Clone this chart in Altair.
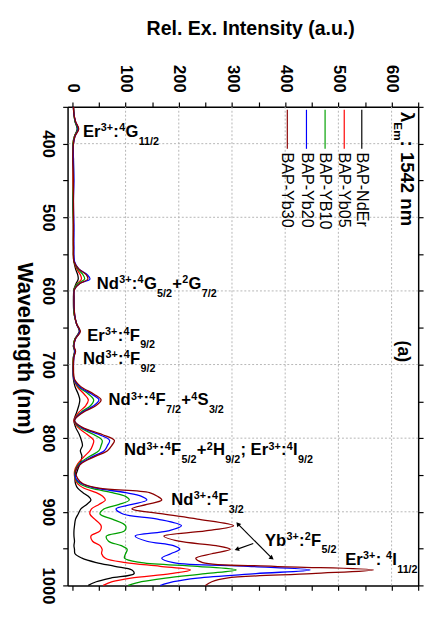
import altair as alt
import pandas as pd

# ---------------- data ----------------
WL = [350, 360, 370, 380, 390, 400, 420, 450, 480, 510, 540,
      560, 570, 578, 584, 590, 598, 610, 630, 645, 655, 665, 675, 682, 690,
      705, 720, 730, 740, 748, 756, 765, 776, 785, 795, 803, 810, 817, 825, 835, 845,
      855, 862, 868, 874, 879, 884, 890, 896, 903, 910, 919, 926, 933, 940, 946, 951,
      957, 963, 969, 974, 979, 984, 990, 995, 1000]

NDER = [2, 3, 5, 9, 4, 2, 1, 2, 1, 2, 2,
        3, 6, 10, 11, 7, 3, 2, 3, 8, 13, 5, 2, 4, 2,
        1, 2, 5, 11, 14, 12, 8, 3, 6, 13, 17, 19, 15, 18, 14, 9,
        5, 6, 10, 20, 30, 35, 27, 16, 11, 6, 4, 3, 3, 4, 3, 4,
        5, 18, 45, 80, 112, 116, 72, 45, 30]

YB05 = [2, 3, 6, 11, 4, 1, 2, 1, 2, 2, 2,
        3, 8, 15, 17, 9, 3, 3, 3, 8, 14, 5, 2, 5, 2,
        2, 3, 9, 22, 30, 25, 12, 3, 10, 28, 40, 38, 33, 22, 10, 4,
        5, 10, 22, 45, 57, 62, 50, 36, 33, 42, 54, 52, 35, 38, 52, 56,
        55, 62, 100, 165, 222, 185, 110, 75, 58]

YB10 = [2, 3, 5, 10, 4, 1, 2, 2, 1, 2, 2,
        3, 10, 20, 23, 10, 3, 3, 3, 8, 14, 5, 2, 5, 2,
        2, 3, 11, 30, 40, 34, 16, 4, 13, 40, 56, 54, 50, 32, 12, 5,
        6, 14, 35, 75, 100, 107, 88, 60, 52, 75, 100, 98, 64, 68, 92, 103,
        100, 98, 130, 235, 308, 250, 175, 130, 105]

YB20 = [2, 3, 6, 11, 5, 2, 2, 3, 2, 3, 3,
        4, 12, 28, 33, 14, 4, 3, 4, 8, 14, 6, 3, 5, 3,
        2, 3, 13, 36, 50, 40, 18, 4, 16, 50, 70, 66, 60, 38, 14, 6,
        7, 18, 45, 100, 130, 140, 112, 82, 95, 160, 205, 180, 118, 140, 190, 202,
        185, 168, 190, 330, 447, 345, 235, 190, 165]

YB30 = [2, 3, 6, 12, 5, 2, 1, 2, 2, 2, 2,
        3, 12, 26, 29, 14, 4, 3, 4, 8, 15, 6, 3, 6, 3,
        2, 4, 16, 40, 54, 44, 20, 4, 18, 56, 79, 74, 66, 42, 16, 6,
        10, 20, 50, 145, 160, 168, 140, 112, 170, 235, 303, 250, 172, 200, 270, 297,
        262, 232, 245, 380, 566, 450, 290, 262, 250]

SERIES = ["BAP-NdEr", "BAP-Yb05", "BAP-YB10", "BAP-Yb20", "BAP-Yb30"]
COLORS = ["#000000", "#ff0000", "#00a000", "#0000ff", "#8b0000"]

# legend (drawn inside the plot, in data units)
LEG_NAMES = ["BAP-Yb30", "BAP-Yb20", "BAP-YB10", "BAP-Yb05", "BAP-NdEr"]
LEG_I = [404, 440, 475, 511, 544]
LEG_WL_TOP = 354
LEG_WL_BOT = 407
LEG_TEXT_WL = 412

# annotation labels: anchor (intensity, wavelength) and rich-text segments
# kind 0 = normal, 1 = superscript, -1 = subscript
LABEL_I = [20, 46, 28, 20, 68, 97, 186, 362, 513]
LABEL_WL = [391, 597, 667.5, 699, 755.5, 823.5, 891, 946, 972]
LABEL_SEGS = [
    [("Er", 0), ("3+", 1), (":", 0), ("4", 1), ("G", 0), ("11/2", -1)],
    [("Nd", 0), ("3+", 1), (":", 0), ("4", 1), ("G", 0), ("5/2", -1), ("+", 0), ("2", 1), ("G", 0), ("7/2", -1)],
    [("Er", 0), ("3+", 1), (":", 0), ("4", 1), ("F", 0), ("9/2", -1)],
    [("Nd", 0), ("3+", 1), (":", 0), ("4", 1), ("F", 0), ("9/2", -1)],
    [("Nd", 0), ("3+", 1), (":", 0), ("4", 1), ("F", 0), ("7/2", -1), ("+", 0), ("4", 1), ("S", 0), ("3/2", -1)],
    [("Nd", 0), ("3+", 1), (":", 0), ("4", 1), ("F", 0), ("5/2", -1), ("+", 0), ("2", 1), ("H", 0), ("9/2", -1),
     ("; Er", 0), ("3+", 1), (":", 0), ("4", 1), ("I", 0), ("9/2", -1)],
    [("Nd", 0), ("3+", 1), (":", 0), ("4", 1), ("F", 0), ("3/2", -1)],
    [("Yb", 0), ("3+", 1), (":", 0), ("2", 1), ("F", 0), ("5/2", -1)],
    [("Er", 0), ("3+", 1), (": ", 0), ("4", 1), ("I", 0), ("11/2", -1)],
]

# arrows for the Yb label
ARROW_I = [311, 340]
ARROW_WL = [916.5, 943]
ARROW_I2 = [375, 309]
ARROW_WL2 = [963, 951]
HEAD_I = [311, 375, 309]
HEAD_WL = [916.5, 963, 951]
HEAD_ANG = [321, 128, 251]

X_TICKS = list(range(0, 651, 50))
Y_TICKS = list(range(350, 1001, 50))
GRID_X = [100, 200, 300, 400, 500, 600]
GRID_Y = [400, 500, 600, 700, 800, 900]

FONT = "Liberation Sans"
MAIN_SIZE = 17
SMALL_SIZE = 11

# Arial/Liberation Sans Bold advance widths (em/1000)
W_BOLD = {" ": 278, "+": 584, "-": 333, ".": 278, "/": 278, ":": 333, ";": 333,
          "E": 667, "F": 611, "G": 778, "H": 722, "I": 278, "N": 722, "S": 667, "Y": 667,
          "b": 611, "d": 611, "r": 389, "m": 889, "n": 611}


def tw(s, size):
    return sum(W_BOLD.get(c, 556) for c in s) / 1000.0 * size


rows = []
for name, vals in zip(SERIES, [NDER, YB05, YB10, YB20, YB30]):
    for w, v in zip(WL, vals):
        rows.append({"series": name, "wl": w, "inten": v})
df = pd.DataFrame(rows)

xs = alt.Scale(domain=[-9, 650], nice=False, zero=False)
ys = alt.Scale(domain=[350, 1000], nice=False, zero=False, reverse=True)

LBL_EXPR = "datum.value % 100 === 0 ? datum.label : ''"

top_axis = alt.Axis(orient="top", values=X_TICKS, format="d", labelExpr=LBL_EXPR, labelAngle=90,
                    labelAlign="right", labelBaseline="middle", labelPadding=10,
                    labelFontSize=17, labelFontWeight="bold", labelFont=FONT, labelColor="black",
                    labelOverlap=False, labelFlush=False,
                    tickSize=5, tickColor="black", tickWidth=1.2,
                    domainColor="black", domainWidth=1.5, grid=False,
                    title="Rel. Ex. Intensity (a.u.)", titleFontSize=20, titleFontWeight="bold",
                    titleFont=FONT, titleColor="black",
                    titleX=187, titleY=-74, titleBaseline="alphabetic", titleAlign="center")
left_axis = alt.Axis(orient="left", values=Y_TICKS, format="d", labelExpr=LBL_EXPR, labelAngle=90,
                     labelAlign="center", labelBaseline="middle", labelPadding=16,
                     labelFontSize=17, labelFontWeight="bold", labelFont=FONT, labelColor="black",
                     labelOverlap=False, labelFlush=False,
                     tickSize=5, tickColor="black", tickWidth=1.2,
                     domainColor="black", domainWidth=1.5, grid=False,
                     title="Wavelength (nm)", titleAngle=90, titleBaseline="middle",
                     titleAlign="center", titleX=-44, titleY=247,
                     titleFontSize=22, titleFontWeight="bold", titleFont=FONT,
                     titleColor="black")
bottom_axis = alt.Axis(orient="bottom", values=X_TICKS, labels=False, title=None,
                       tickSize=5, tickColor="black", tickWidth=1.2,
                       domainColor="black", domainWidth=1.5, grid=False)
right_axis = alt.Axis(orient="right", values=Y_TICKS, labels=False, title=None,
                      tickSize=5, tickColor="black", tickWidth=1.2,
                      domainColor="black", domainWidth=1.5, grid=False)

layers = []

# grid
layers.append(alt.Chart(pd.DataFrame({"g": GRID_X})).mark_rule(
    color="#b5b5b5", strokeDash=[2, 2], strokeWidth=1).encode(
    x=alt.X("g:Q", scale=xs, axis=None)))
layers.append(alt.Chart(pd.DataFrame({"g": GRID_Y})).mark_rule(
    color="#b5b5b5", strokeDash=[2, 2], strokeWidth=1).encode(
    y=alt.Y("g:Q", scale=ys, axis=None)))

# spectra
layers.append(alt.Chart(df).mark_line(strokeWidth=1.3, interpolate="catmull-rom").encode(
    x=alt.X("inten:Q", scale=xs, axis=top_axis),
    y=alt.Y("wl:Q", scale=ys, axis=left_axis),
    color=alt.Color("series:N", scale=alt.Scale(domain=SERIES, range=COLORS), legend=None),
    order=alt.Order("wl:Q")))

# opposite axes
layers.append(alt.Chart(df).mark_point(opacity=0).encode(
    x=alt.X("inten:Q", scale=xs, axis=bottom_axis),
    y=alt.Y("wl:Q", scale=ys, axis=right_axis)))

# legend
leg = pd.DataFrame({"name": LEG_NAMES, "inten": LEG_I,
                    "w1": [LEG_WL_TOP] * 5, "w2": [LEG_WL_BOT] * 5, "wt": [LEG_TEXT_WL] * 5})
layers.append(alt.Chart(leg).mark_rule(strokeWidth=1.2).encode(
    x=alt.X("inten:Q", scale=xs, axis=None),
    y=alt.Y("w1:Q", scale=ys, axis=None), y2="w2:Q",
    color=alt.Color("name:N", scale=alt.Scale(domain=SERIES, range=COLORS), legend=None)))
layers.append(alt.Chart(leg).mark_text(angle=90, align="left", baseline="middle",
                                       fontSize=16.5, font=FONT, color="black").encode(
    x=alt.X("inten:Q", scale=xs, axis=None),
    y=alt.Y("wt:Q", scale=ys, axis=None), text="name:N"))

# lambda_Em : 1542 nm
lam = [("\u03bb", 0, 19), ("Em", 1, 12), (" : 1542 nm", 0, 19)]
off = 0.0
for t, kind, sz in lam:
    d = pd.DataFrame({"inten": [618], "wl": [357], "t": [t]})
    layers.append(alt.Chart(d).mark_text(angle=90, align="left", baseline="alphabetic",
                                         dx=off, dy=7 if kind == 1 else 0, fontSize=sz,
                                         fontWeight="bold", font=FONT, color="black").encode(
        x=alt.X("inten:Q", scale=xs, axis=None),
        y=alt.Y("wl:Q", scale=ys, axis=None), text="t:N"))
    off += tw(t, sz)

# (a)
layers.append(alt.Chart(pd.DataFrame({"inten": [622], "wl": [682], "t": ["(a)"]})).mark_text(
    angle=90, align="center", baseline="middle", fontSize=18, fontWeight="bold",
    font=FONT, color="black").encode(
    x=alt.X("inten:Q", scale=xs, axis=None),
    y=alt.Y("wl:Q", scale=ys, axis=None), text="t:N"))

# annotation labels with super/subscripts
for li, lw, segs in zip(LABEL_I, LABEL_WL, LABEL_SEGS):
    off = 0.0
    for t, kind in segs:
        sz = MAIN_SIZE if kind == 0 else SMALL_SIZE
        dy = 0 if kind == 0 else (-6 if kind == 1 else 8)
        d = pd.DataFrame({"inten": [li], "wl": [lw], "t": [t]})
        layers.append(alt.Chart(d).mark_text(align="left", baseline="alphabetic", dx=off, dy=dy,
                                             fontSize=sz, fontWeight="bold", font=FONT,
                                             color="black").encode(
            x=alt.X("inten:Q", scale=xs, axis=None),
            y=alt.Y("wl:Q", scale=ys, axis=None), text="t:N"))
        off += tw(t, sz) + 0.3

# arrows
arr = pd.DataFrame({"i1": ARROW_I, "w1": ARROW_WL, "i2": ARROW_I2, "w2": ARROW_WL2})
layers.append(alt.Chart(arr).mark_rule(color="black", strokeWidth=1.2).encode(
    x=alt.X("i1:Q", scale=xs, axis=None), x2="i2:Q",
    y=alt.Y("w1:Q", scale=ys, axis=None), y2="w2:Q"))
heads = pd.DataFrame({"i": HEAD_I, "w": HEAD_WL, "a": HEAD_ANG})
layers.append(alt.Chart(heads).mark_point(shape="triangle-up", filled=True, size=28,
                                          color="black", opacity=1).encode(
    x=alt.X("i:Q", scale=xs, axis=None),
    y=alt.Y("w:Q", scale=ys, axis=None),
    angle=alt.Angle("a:Q", scale=None)))

chart = alt.layer(*layers).resolve_axis(x="independent", y="independent").properties(
    width=359, height=490,
    autosize=alt.AutoSizeParams(type="none"),
    padding={"left": 61, "top": 94, "right": 8, "bottom": 20},
    background="white",
).configure_view(stroke=None)

chart.save("out.html", embed_options={"renderer": "svg", "actions": False})
